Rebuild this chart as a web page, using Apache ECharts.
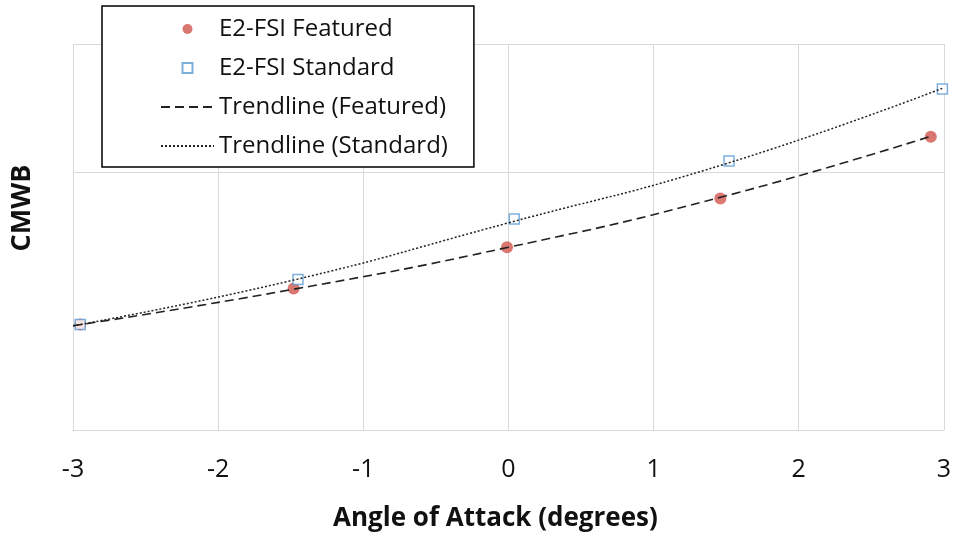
<!DOCTYPE html>
<html>
<head>
<meta charset="utf-8">
<script src="https://cdn.jsdelivr.net/npm/echarts@6/dist/echarts.min.js"></script>
<style>
  html, body { margin: 0; padding: 0; background: #fff; }
  #chart { width: 954px; height: 541px; }
</style>
</head>
<body>
<div id="chart"></div>
<script>
// angle of attack (deg) and CMWB readings
var featuredX = [-2.95, -1.48, -0.01, 1.46, 2.91];
var featuredY = [0.82, 1.10, 1.42, 1.80, 2.28];
var standardX = [-2.95, -1.45, 0.04, 1.52, 2.99];
var standardY = [0.82, 1.17, 1.64, 2.09, 2.65];

// trendlines
var trendFeatX = [-3, -1.5, 0, 1.5, 2.93];
var trendFeatY = [0.81, 1.09, 1.42, 1.82, 2.29];
var trendStdX = [-3, -1.5, 0, 1.5, 3];
var trendStdY = [0.81, 1.16, 1.61, 2.07, 2.66];

var xTicks = [-3, -2, -1, 0, 1, 2, 3];

function pairs(xs, ys) {
    var out = [];
    for (var i = 0; i < xs.length; i++) out.push([xs[i], ys[i]]);
    return out;
}

var chart = echarts.init(document.getElementById('chart'));
var font = '"Open Sans", Lato, sans-serif';

var option = {
    animation: false,
    textStyle: { fontFamily: font },
    grid: { left: 73, right: 10, top: 44, bottom: 111 },
    legend: {
        data: [
            { name: 'E2-FSI Featured', icon: 'circle' },
            { name: 'E2-FSI Standard', icon: 'path://M0,0H10V10H0Z' },
            { name: 'Trendline (Featured)' },
            { name: 'Trendline (Standard)' }
        ],
        orient: 'vertical',
        left: 102,
        top: 6,
        padding: [11, 26, 9, 58],
        itemGap: 15,
        itemWidth: 53,
        itemHeight: 10,
        symbolKeepAspect: true,
        backgroundColor: '#fff',
        borderColor: '#000',
        borderWidth: 1.5,
        textStyle: { fontFamily: font, fontSize: 24, color: '#111', lineHeight: 24 }
    },
    xAxis: {
        type: 'value',
        min: -3,
        max: 3,
        interval: 1,
        name: 'Angle of Attack (degrees)',
        nameLocation: 'middle',
        nameGap: 76,
        nameTextStyle: { fontFamily: font, fontSize: 26, fontWeight: 'bold', color: '#111', padding: [0, 26, 0, 0] },
        axisLine: { lineStyle: { color: '#d9d9d9', width: 1 } },
        axisTick: { show: false },
        axisLabel: {
            fontFamily: font, fontSize: 25, color: '#111', margin: 27,
            formatter: function (v) { return xTicks.indexOf(v) >= 0 ? String(v) : ''; }
        },
        splitLine: { show: true, lineStyle: { color: '#d9d9d9', width: 1 } }
    },
    yAxis: {
        type: 'value',
        min: 0,
        max: 3,
        interval: 2,
        axisLine: { show: false },
        axisTick: { show: false },
        axisLabel: { show: false },
        splitLine: { show: true, lineStyle: { color: '#d9d9d9', width: 1 } }
    },
    graphic: [{
        type: 'text',
        x: 22,
        y: 208,
        rotation: Math.PI / 2,
        style: {
            text: 'CMWB',
            font: 'bold 27px ' + font,
            fill: '#111',
            align: 'center',
            verticalAlign: 'middle'
        }
    }],
    series: [{
        name: 'E2-FSI Featured',
        type: 'scatter',
        symbol: 'circle',
        symbolSize: 12,
        itemStyle: { color: '#cf554c' },
        data: pairs(featuredX, featuredY)
    }, {
        name: 'E2-FSI Standard',
        type: 'scatter',
        symbol: 'rect',
        symbolSize: 10,
        itemStyle: { color: '#fff', borderColor: '#5b9bd5', borderWidth: 1.5 },
        data: pairs(standardX, standardY)
    }, {
        name: 'Trendline (Featured)',
        type: 'line',
        smooth: true,
        symbol: 'none',
        itemStyle: { color: '#222', opacity: 0 },
        lineStyle: { color: '#222', width: 1.6, type: [9, 5] },
        data: pairs(trendFeatX, trendFeatY)
    }, {
        name: 'Trendline (Standard)',
        type: 'line',
        smooth: true,
        symbol: 'none',
        itemStyle: { color: '#222', opacity: 0 },
        lineStyle: { color: '#222', width: 1.5, type: [2, 2] },
        data: pairs(trendStdX, trendStdY)
    }]
};

chart.setOption(option);
</script>
</body>
</html>
